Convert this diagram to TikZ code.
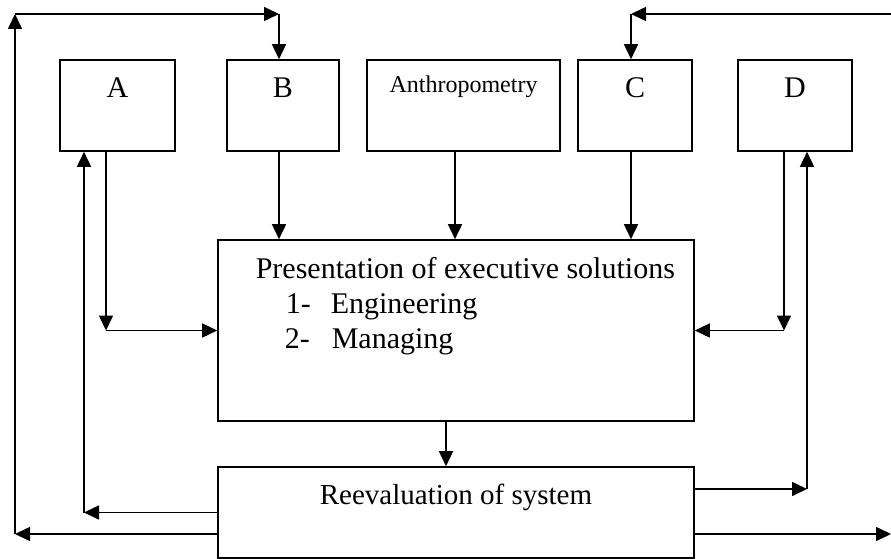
\documentclass[tikz,border=0pt]{standalone}
\usepackage{fontspec}
\setmainfont{Liberation Serif}
\usetikzlibrary{arrows.meta}
\begin{document}
\begin{tikzpicture}[x=1pt,y=-1pt,line width=1.6pt,
    arr/.style={-{Triangle[length=15pt,width=14pt]}},
    topbox/.style={draw,minimum height=91pt,inner sep=0pt,font=\fontsize{30}{30}\selectfont,text height=21pt,text depth=36pt},
    bigbox/.style={draw,minimum width=476pt,inner sep=0pt}]
      \useasboundingbox (0,0) rectangle (891,559);
      \node[topbox,minimum width=115pt] (A) at (117.5,105.5) {A};
      \node[topbox,minimum width=112pt] (B) at (283,105.5) {B};
      \node[topbox,minimum width=193pt,font=\fontsize{24}{24}\selectfont,text height=17pt,text depth=42pt] (anthro) at (463.5,105.5) {Anthropometry};
      \node[topbox,minimum width=114pt] (C) at (635,105.5) {C};
      \node[topbox,minimum width=114pt] (D) at (795,105.5) {D};
      \node[bigbox,minimum height=181pt] (pres) at (456,330.5) {};
      \node[anchor=north west,align=left,inner sep=0pt,font=\fontsize{30}{35}\selectfont] (prestext) at (255,257)
        {Presentation of executive solutions\\ \hspace*{30pt}\makebox[45pt][l]{1-}Engineering\\ \hspace*{29pt}\makebox[47pt][l]{2-}Managing};
      \node[bigbox,minimum height=91pt,font=\fontsize{29}{29}\selectfont,text height=19pt,text depth=36pt] (reeval) at (456,512.5) {Reevaluation of system};
      % corners of the feedback lines
      \coordinate (lo) at (15,534);
      \coordinate (lt) at (15,14);
      \coordinate (bt) at (279,14);
      \coordinate (ct) at (631,14);
      \coordinate (rt) at (891,14);
      \coordinate (ro) at (891,534);
      \coordinate (al) at (84,512.5);
      \coordinate (ad) at (106,330.5);
      \coordinate (dd) at (784,330.5);
      \coordinate (du) at (807,489);
      \draw[arr] (reeval.west |- lo) -- (lo);
      \draw[arr] (lo) -- (lt);
      \draw[arr] (lt) -- (bt);
      \draw[arr] (bt) -- (bt |- B.north);
      \draw[arr] (rt) -- (ct);
      \draw[arr] (ct) -- (ct |- C.north);
      \draw[arr] (reeval.east |- lo) -- (ro);
      \draw[arr] (bt |- B.south) -- (bt |- pres.north);
      \draw[arr] ([xshift=-8.5pt]anthro.south) -- ([xshift=-8.5pt]anthro.south |- pres.north);
      \draw[arr] (ct |- C.south) -- (ct |- pres.north);
      \draw[arr] (reeval.west) -- (al);
      \draw[arr] (al) -- (al |- A.south);
      \draw[arr] (ad |- A.south) -- (ad);
      \draw[arr] (ad) -- (pres.west);
      \draw[arr] (dd |- D.south) -- (dd);
      \draw[arr] (dd) -- (pres.east);
      \draw[arr] (reeval.east |- du) -- (du);
      \draw[arr] (du) -- (du |- D.south);
      \draw[arr] ([xshift=-10pt]pres.south) -- ([xshift=-10pt]reeval.north);
\end{tikzpicture}
\end{document}
